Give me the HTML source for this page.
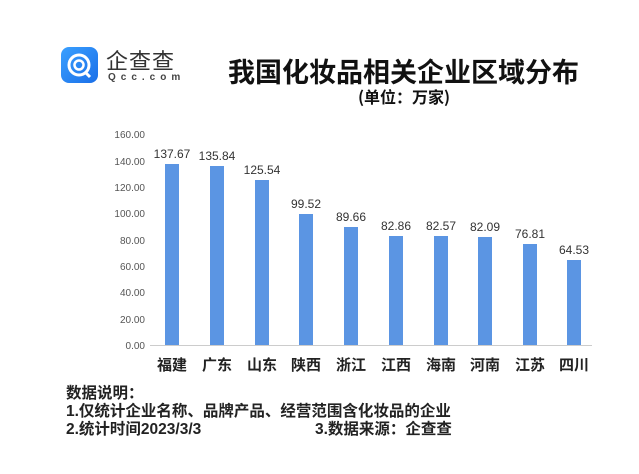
<!DOCTYPE html>
<html><head><meta charset="utf-8"><style>
body{margin:0;width:639px;height:474px;background:#fff;position:relative;overflow:hidden;font-family:"Liberation Sans","Noto Sans CJK SC",sans-serif;}
.a{position:absolute;white-space:nowrap;}
</style></head><body>
<div class="a" style="left:61px;top:47px;width:37px;height:36px;border-radius:8px;background:linear-gradient(135deg,#3aa0ff,#1a6fe8);"></div>
<svg class="a" style="left:61px;top:47px" width="37" height="36"><circle cx="18" cy="18" r="10" fill="none" stroke="#fff" stroke-width="3"/><circle cx="18" cy="18" r="4.5" fill="none" stroke="#fff" stroke-width="2.5"/><line x1="24" y1="25" x2="29" y2="30" stroke="#fff" stroke-width="3"/></svg>
<div class="a" style="left:106px;top:44px;font-size:22px;color:#333;font-family:'Noto Sans CJK SC',sans-serif;letter-spacing:1px;">企查查</div>
<div class="a" style="left:108px;top:72px;font-size:10px;color:#444;letter-spacing:5px;font-weight:bold;">Qcc.com</div>
<div class="a" style="left:228px;top:51px;font-size:27px;font-weight:bold;color:#111;font-family:'Noto Sans CJK SC',sans-serif;">我国化妆品相关企业区域分布</div>
<div class="a" style="left:358px;top:84px;font-size:16px;font-weight:bold;color:#111;font-family:'Noto Sans CJK SC',sans-serif;">(单位：万家)</div>
<svg class="a" style="left:0;top:0" width="639" height="474" font-family="Liberation Sans,sans-serif">
<g font-size="10" fill="#555" text-anchor="end">
<text x="145" y="349">0.00</text><text x="145" y="323">20.00</text><text x="145" y="296">40.00</text><text x="145" y="270">60.00</text><text x="145" y="244">80.00</text><text x="145" y="217">100.00</text><text x="145" y="191">120.00</text><text x="145" y="165">140.00</text><text x="145" y="138">160.00</text>
</g>
<line x1="150" y1="345.5" x2="592" y2="345.5" stroke="#ccc"/>
<g fill="#5b95e3">
<rect x="165" y="164" width="14" height="181"/>
<rect x="210" y="166" width="14" height="179"/>
<rect x="255" y="180" width="14" height="165"/>
<rect x="299" y="214" width="14" height="131"/>
<rect x="344" y="227" width="14" height="118"/>
<rect x="389" y="236" width="14" height="109"/>
<rect x="434" y="236" width="14" height="109"/>
<rect x="478" y="237" width="14" height="108"/>
<rect x="523" y="244" width="14" height="101"/>
<rect x="567" y="260" width="14" height="85"/>
</g>
<g font-size="12" fill="#333" text-anchor="middle">
<text x="172" y="158">137.67</text><text x="217" y="160">135.84</text><text x="262" y="174">125.54</text><text x="306" y="208">99.52</text><text x="351" y="221">89.66</text><text x="396" y="230">82.86</text><text x="441" y="230">82.57</text><text x="485" y="231">82.09</text><text x="530" y="238">76.81</text><text x="574" y="254">64.53</text>
</g>
<g font-size="15" fill="#222" text-anchor="middle" font-family="Noto Sans CJK SC,sans-serif" font-weight="bold">
<text x="172" y="370">福建</text><text x="217" y="370">广东</text><text x="262" y="370">山东</text><text x="306" y="370">陕西</text><text x="351" y="370">浙江</text><text x="396" y="370">江西</text><text x="441" y="370">海南</text><text x="485" y="370">河南</text><text x="530" y="370">江苏</text><text x="574" y="370">四川</text>
</g>
</svg>
<div class="a" style="left:66px;top:385px;font-size:15.5px;font-weight:bold;color:#222;line-height:18px;font-family:'Liberation Sans','Noto Sans CJK SC',sans-serif;">数据说明：<br>1.仅统计企业名称、品牌产品、经营范围含化妆品的企业<br>2.统计时间2023/3/3</div>
<div class="a" style="left:315px;top:421px;font-size:15.5px;font-weight:bold;color:#222;line-height:18px;font-family:'Liberation Sans','Noto Sans CJK SC',sans-serif;">3.数据来源：企查查</div>
</body></html>
